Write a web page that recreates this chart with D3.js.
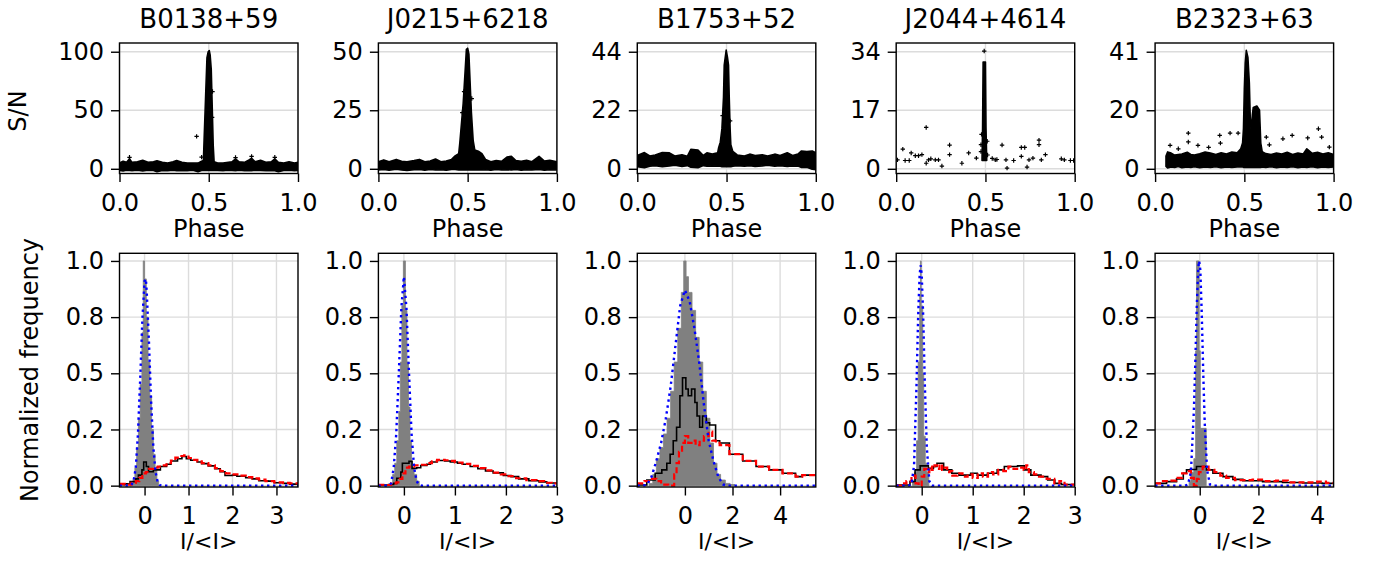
<!DOCTYPE html>
<html><head><meta charset="utf-8">
<script src="https://cdn.jsdelivr.net/npm/d3@7"></script>
<style>
body{margin:0;background:#fff}
text{font-family:"DejaVu Sans",sans-serif;fill:#000}
</style>
</head><body>
<svg id="c" width="1375" height="561"></svg>
<script>
// ---------------- DATA ----------------
const pulsarNames = ["B0138+59","J0215+6218","B1753+52","J2044+4614","B2323+63"];
const snMax = [100, 50, 44, 34, 41];
const snTickLabels = [["0","50","100"],["0","25","50"],["0","22","44"],["0","17","34"],["0","20","41"]];
const phaseTicks = [0, 0.5, 1];
const phaseTickLabels = ["0.0","0.5","1.0"];

// dense single-pulse clouds: [phase, low S/N, high S/N] envelope
const cloud_B0138 = [[0.0,-1.5,5],[0.02,-1.8,6.5],[0.04,-1.2,5.5],[0.056,-1.5,8.5],[0.07,-1.6,5.5],[0.1,-1.3,6],[0.13,-1.8,7.2],[0.16,-1.2,5.5],[0.19,-1.5,6],[0.21,-2.5,6.8],[0.24,-1.4,5.5],[0.27,-1.6,5],[0.3,-1.2,6],[0.32,-1.7,7],[0.35,-1.4,5.5],[0.38,-1.6,5],[0.41,-1.3,5],[0.44,-2.5,4.8],[0.46,-1.5,6.5],[0.47,-1.5,7],[0.474,-1.5,25],[0.482,-1.5,60],[0.49,-1.5,95],[0.497,-1.5,100],[0.503,-1.5,101],[0.508,-1.5,97],[0.514,-1.5,85],[0.52,-1.5,50],[0.525,-1.5,20],[0.53,-1.5,6],[0.55,-1.4,5],[0.58,-1.6,4.8],[0.61,-1.3,5.5],[0.63,-1.5,6],[0.65,-1.7,8.5],[0.67,-1.3,6],[0.7,-1.6,5.5],[0.72,-1.4,7],[0.74,-1.6,9],[0.76,-1.3,6],[0.79,-1.5,7.2],[0.82,-1.7,5.5],[0.85,-1.4,6],[0.87,-1.6,8.5],[0.89,-2.5,5.5],[0.92,-1.5,5],[0.95,-1.3,6],[0.98,-1.7,5],[1.0,-1.5,5.5]];
const cloud_J0215 = [[0.0,-0.5,3],[0.03,-0.3,3.8],[0.06,-0.6,3],[0.1,-0.2,4],[0.13,-0.5,3.2],[0.16,-0.7,3],[0.2,-0.4,3.5],[0.23,-0.3,4],[0.26,-0.6,3],[0.29,-0.3,3.3],[0.32,-0.5,4.2],[0.35,-0.4,3],[0.38,-0.6,3.3],[0.41,-0.3,4],[0.43,-0.3,5.5],[0.45,-0.5,6.5],[0.456,-0.5,11],[0.466,-0.5,20],[0.475,-0.5,28],[0.486,-0.5,42],[0.493,-0.5,51],[0.5,-0.5,51.5],[0.507,-0.5,49],[0.512,-0.5,40],[0.521,-0.5,24],[0.531,-0.5,12],[0.54,-0.5,8],[0.56,-0.5,7.5],[0.58,-0.5,6.5],[0.6,-0.4,4],[0.63,-0.6,3],[0.66,-0.3,3.5],[0.69,-0.5,3.2],[0.72,-0.4,5],[0.745,-0.5,5.3],[0.77,-0.3,3.5],[0.8,-0.6,3.2],[0.83,-0.4,3.6],[0.86,-0.5,3],[0.9,-0.3,5.3],[0.93,-0.6,3.3],[0.96,-0.4,3.6],[1.0,-0.5,3]];
const cloud_B1753 = [[0.0,0.8,5],[0.04,0.4,6.1],[0.07,1.0,4.8],[0.1,1.2,5.2],[0.14,0.8,6.1],[0.18,1.1,6],[0.21,1.3,4.8],[0.25,0.9,5.3],[0.28,1.2,4.7],[0.3,0.6,7.3],[0.34,0.4,7],[0.37,1.2,5],[0.39,1.0,6],[0.42,1.1,5.5],[0.45,1.0,6],[0.456,1.0,8],[0.465,1.0,10],[0.474,0.8,15],[0.483,0.8,27],[0.487,0.8,39],[0.498,0.8,44.6],[0.505,0.8,42],[0.511,0.8,39],[0.515,0.8,27],[0.52,0.8,15],[0.524,0.8,9],[0.535,1.0,6.5],[0.56,1.2,5.2],[0.6,1.0,4.8],[0.63,1.2,5.5],[0.66,0.9,5],[0.7,1.1,5.3],[0.73,1.3,4.8],[0.77,1.0,5.5],[0.8,1.2,5],[0.84,0.9,6],[0.87,1.1,5],[0.9,1.0,5.5],[0.92,0.5,6.7],[0.95,0.6,6.5],[0.98,-0.2,6.7],[1.0,-0.3,6]];
const cloud_J2044 = [[0.481,2.4,3],[0.484,2.4,12],[0.487,2.4,31],[0.5,2.4,31],[0.503,2.4,12],[0.507,2.4,3]];
const cloud_B2323 = [[0.061,0.8,4.5],[0.07,0.3,5.9],[0.09,0.6,5.5],[0.11,0.5,4.8],[0.13,0.8,5],[0.15,0.4,5.2],[0.18,0.6,5.8],[0.2,0.5,5],[0.22,0.7,4.8],[0.25,0.4,5.3],[0.28,0.6,5.9],[0.31,0.5,5.5],[0.34,0.7,5],[0.37,0.4,5.6],[0.4,0.6,5.2],[0.43,0.5,5.9],[0.46,0.6,5.6],[0.48,0.6,7],[0.49,0.6,9],[0.495,0.5,14],[0.5,0.5,28],[0.505,0.5,37],[0.511,0.5,41.5],[0.52,0.5,39],[0.528,0.5,30],[0.533,0.5,18],[0.538,0.5,13],[0.545,0.5,19],[0.55,0.5,21.5],[0.57,0.5,22],[0.585,0.5,20.5],[0.592,0.5,9],[0.6,0.6,6],[0.62,0.5,5.3],[0.65,0.7,5],[0.68,0.4,5.5],[0.71,0.6,5.2],[0.74,0.5,5.8],[0.77,0.7,5],[0.8,0.4,5.5],[0.83,0.6,5.2],[0.85,0.5,7],[0.88,0.7,5.4],[0.91,0.4,5.8],[0.94,0.6,5.2],[0.97,0.5,5.6],[1.0,0.6,5]];

// isolated single pulses: [phase, S/N]
const stray_B0138 = [[0.432,27.7],[0.521,66],[0.519,44],[0.46,10],[0.056,9.8],[0.65,9.6],[0.74,10.6],[0.87,9.8]];
const stray_J0215 = [[0.47,24],[0.523,30],[0.48,33]];
const stray_B1753 = [[0.478,20],[0.52,18]];
const stray_J2044 = [[0.493,34.2],[0.475,5],[0.475,7],[0.51,8],[0.512,4],[0.478,10],[0.007,2.6],[0.037,5.7],[0.05,2.4],[0.073,2.4],[0.084,4.6],[0.107,3.8],[0.125,3.8],[0.144,4.1],[0.168,12.0],[0.168,1.6],[0.181,2.6],[0.194,2.9],[0.219,2.6],[0.237,2.6],[0.256,0.8],[0.299,6.9],[0.299,4.1],[0.368,1.6],[0.406,4.6],[0.449,3.1],[0.538,3.0],[0.555,2.6],[0.564,2.7],[0.593,6.9],[0.615,2.6],[0.621,0.2],[0.658,2.4],[0.701,6.2],[0.72,6.2],[0.701,3.6],[0.733,0.5],[0.744,2.6],[0.766,3.1],[0.8,8.3],[0.8,7.0],[0.813,2.6],[0.836,4.1],[0.925,2.9],[0.942,2.6],[0.976,2.4],[0.994,2.4]];
const stray_B2323 = [[0.084,8.2],[0.186,12.5],[0.186,9.4],[0.24,8.2],[0.362,11.7],[0.366,9.0],[0.42,12.5],[0.465,12.5],[0.623,11.1],[0.64,8.4],[0.716,10.5],[0.768,11.7],[0.855,10.8],[0.915,14.0],[0.933,11.1],[0.976,7.6],[0.13,7],[0.3,7.5],[0.55,7]];

// bottom row
const freqTicks = [0, 0.25, 0.5, 0.75, 1];
const freqTickLabels = ["0.0","0.2","0.5","0.8","1.0"];
const intensityDomains = [[-0.57,3.49],[-0.5,3],[-2,5.5],[-0.5,3],[-1.52,4.56]];
const intensityTicks = [[0,1,2,3],[0,1,2,3],[0,2,4],[0,1,2,3],[0,2,4]];

// off-pulse histogram (grey, filled steps): [bin left edge, normalized frequency]
const off_B0138 = [[-0.34,0],[-0.30,0.01],[-0.26,0.03],[-0.22,0.08],[-0.18,0.17],[-0.14,0.3],[-0.10,0.45],[-0.06,0.68],[-0.03,1.0],[0.0,0.92],[0.04,0.75],[0.08,0.55],[0.12,0.4],[0.16,0.25],[0.20,0.14],[0.24,0.07],[0.28,0.02],[0.32,0]];
const off_J0215 = [[-0.26,0.01],[-0.22,0.05],[-0.18,0.1],[-0.14,0.2],[-0.1,0.33],[-0.07,0.55],[-0.04,0.8],[-0.01,1.0],[0.03,0.78],[0.06,0.55],[0.09,0.35],[0.12,0.2],[0.15,0.08],[0.2,0.05],[0.25,0.02],[0.3,0]];
const off_B1753 = [[-1.5,0.01],[-1.35,0.05],[-1.2,0.12],[-1.05,0.17],[-0.9,0.23],[-0.75,0.3],[-0.6,0.42],[-0.45,0.55],[-0.3,0.7],[-0.15,0.86],[-0.05,1.0],[0.05,0.93],[0.15,0.86],[0.3,0.78],[0.45,0.66],[0.6,0.55],[0.75,0.42],[0.9,0.3],[1.05,0.19],[1.2,0.1],[1.35,0.05],[1.5,0.025],[1.7,0.01],[1.9,0.005],[2.1,0]];
const off_J2044 = [[-0.18,0.02],[-0.14,0.06],[-0.1,0.2],[-0.07,0.55],[-0.04,0.85],[-0.025,1.0],[-0.01,0.8],[0.02,0.5],[0.04,0.22],[0.07,0.1],[0.1,0.06],[0.14,0]];
const off_B2323 = [[-0.36,0.02],[-0.3,0.06],[-0.2,0.12],[-0.14,0.6],[-0.11,1.0],[-0.02,0.6],[0.02,0.255],[0.22,0]];

// fitted noise distribution (blue dotted): [I/<I>, normalized frequency]
const fit_B0138 = [[-0.57,0],[-0.35,0],[-0.3,0.003],[-0.25,0.02],[-0.2,0.08],[-0.15,0.23],[-0.1,0.47],[-0.05,0.74],[0.0,0.91],[0.03,0.92],[0.05,0.86],[0.1,0.64],[0.15,0.37],[0.2,0.17],[0.25,0.06],[0.3,0.015],[0.35,0.002],[0.4,0],[3.49,0]];
const fit_J0215 = [[-0.5,0],[-0.3,0],[-0.25,0.01],[-0.2,0.08],[-0.15,0.23],[-0.1,0.5],[-0.05,0.79],[0,0.93],[0.05,0.79],[0.1,0.5],[0.15,0.23],[0.2,0.08],[0.25,0.02],[0.3,0.003],[0.35,0],[3,0]];
const fit_B1753 = [[-2,0],[-1.8,0],[-1.6,0.003],[-1.4,0.04],[-1.2,0.11],[-1.0,0.19],[-0.8,0.3],[-0.6,0.44],[-0.4,0.62],[-0.2,0.8],[0,0.87],[0.2,0.82],[0.4,0.7],[0.6,0.55],[0.8,0.36],[1.0,0.2],[1.2,0.11],[1.4,0.04],[1.6,0.005],[1.8,0],[5.5,0]];
const fit_J2044 = [[-0.5,0],[-0.25,0],[-0.2,0.005],[-0.15,0.09],[-0.1,0.46],[-0.07,0.75],[-0.04,0.94],[-0.02,0.98],[0.0,0.94],[0.03,0.75],[0.06,0.46],[0.1,0.17],[0.15,0.02],[0.2,0],[3.0,0]];
const fit_B2323 = [[-1.52,0],[-0.5,0],[-0.4,0.005],[-0.3,0.06],[-0.2,0.33],[-0.15,0.55],[-0.1,0.8],[-0.05,0.97],[-0.02,1.0],[0.02,0.96],[0.07,0.76],[0.12,0.5],[0.17,0.28],[0.25,0.07],[0.35,0.005],[0.45,0],[4.56,0]];

// on-pulse histogram (black steps)
const on_B0138 = [[-0.57,0.004],[-0.45,0.008],[-0.33,0.018],[-0.2,0.03],[-0.14,0.047],[-0.06,0.07],[-0.02,0.105],[0.04,0.085],[0.09,0.062],[0.2,0.07],[0.36,0.085],[0.5,0.095],[0.6,0.11],[0.75,0.12],[0.85,0.13],[0.95,0.12],[1.05,0.113],[1.2,0.105],[1.3,0.098],[1.45,0.088],[1.6,0.075],[1.72,0.062],[1.83,0.045],[2.0,0.047],[2.1,0.042],[2.3,0.035],[2.45,0.03],[2.6,0.022],[2.8,0.02],[2.95,0.013],[3.15,0.01],[3.3,0.007],[3.49,0.007]];
const on_J0215 = [[-0.5,0.003],[-0.3,0.005],[-0.2,0.01],[-0.14,0.033],[-0.06,0.06],[-0.03,0.1],[0.05,0.1],[0.1,0.108],[0.16,0.077],[0.25,0.08],[0.33,0.09],[0.45,0.095],[0.52,0.105],[0.65,0.112],[0.8,0.11],[0.91,0.105],[1.05,0.1],[1.15,0.095],[1.3,0.085],[1.45,0.075],[1.6,0.065],[1.75,0.057],[1.95,0.045],[2.1,0.04],[2.25,0.03],[2.45,0.022],[2.65,0.017],[2.8,0.012],[3.0,0.012]];
const on_B1753 = [[-2.0,0.003],[-1.6,0.025],[-1.25,0.055],[-0.97,0.07],[-0.76,0.1],[-0.62,0.14],[-0.49,0.2],[-0.35,0.26],[-0.21,0.4],[-0.1,0.48],[0.04,0.43],[0.14,0.4],[0.28,0.43],[0.42,0.37],[0.51,0.31],[0.62,0.26],[0.74,0.31],[0.9,0.28],[1.04,0.27],[1.29,0.2],[1.46,0.19],[1.87,0.14],[2.43,0.11],[2.99,0.085],[3.54,0.07],[4.1,0.055],[4.65,0.04],[4.93,0.047],[5.5,0.047]];
const on_J2044 = [[-0.5,0.003],[-0.23,0.018],[-0.13,0.07],[-0.03,0.088],[0.13,0.077],[0.23,0.085],[0.3,0.1],[0.43,0.07],[0.59,0.055],[0.73,0.047],[0.96,0.055],[1.09,0.047],[1.29,0.055],[1.48,0.07],[1.62,0.085],[1.88,0.088],[2.01,0.07],[2.14,0.047],[2.34,0.04],[2.47,0.025],[2.61,0.01],[2.74,0.005],[3.0,0.005]];
const on_B2323 = [[-1.52,0.01],[-1.13,0.018],[-0.79,0.03],[-0.56,0.055],[-0.45,0.07],[-0.34,0.072],[-0.11,0.085],[0.23,0.07],[0.45,0.055],[0.79,0.04],[1.13,0.028],[1.47,0.022],[2.14,0.018],[2.82,0.014],[3.5,0.012],[4.17,0.01],[4.56,0.01]];

// residual histogram (red dashed steps)
const res_B0138 = [[-0.57,0.008],[-0.45,0.005],[-0.3,0.012],[-0.2,0.02],[-0.12,0.035],[-0.05,0.055],[0.03,0.06],[0.1,0.075],[0.2,0.08],[0.3,0.085],[0.4,0.09],[0.5,0.1],[0.6,0.112],[0.7,0.125],[0.8,0.132],[0.9,0.135],[1.0,0.123],[1.1,0.115],[1.2,0.108],[1.3,0.1],[1.45,0.09],[1.6,0.078],[1.72,0.065],[1.85,0.055],[2.0,0.05],[2.15,0.045],[2.3,0.038],[2.45,0.032],[2.6,0.027],[2.75,0.02],[2.95,0.015],[3.15,0.012],[3.3,0.01],[3.49,0.01]];
const res_J0215 = [[-0.5,0.004],[-0.35,0.003],[-0.25,0.01],[-0.15,0.015],[-0.08,0.03],[-0.03,0.055],[0.03,0.08],[0.1,0.085],[0.2,0.09],[0.3,0.093],[0.45,0.1],[0.55,0.108],[0.65,0.115],[0.8,0.113],[0.9,0.11],[1.0,0.103],[1.15,0.097],[1.3,0.088],[1.45,0.078],[1.6,0.068],[1.75,0.058],[1.9,0.05],[2.05,0.042],[2.2,0.033],[2.4,0.025],[2.6,0.02],[2.75,0.013],[2.9,0.01],[3.0,0.01]];
const res_B1753 = [[-2.0,0.01],[-1.7,0.02],[-1.45,0.03],[-1.2,0.02],[-1.0,0.005],[-0.7,0.0],[-0.45,0.05],[-0.35,0.1],[-0.25,0.15],[-0.12,0.19],[0.0,0.22],[0.14,0.19],[0.28,0.2],[0.45,0.18],[0.62,0.2],[0.8,0.22],[1.0,0.24],[1.15,0.2],[1.3,0.19],[1.46,0.18],[1.87,0.14],[2.43,0.11],[2.99,0.085],[3.54,0.07],[4.1,0.055],[4.65,0.04],[4.93,0.047],[5.5,0.047]];
const res_J2044 = [[-0.5,0.0],[-0.4,0.01],[-0.3,0.02],[-0.2,0.045],[-0.12,0.01],[-0.06,0.0],[0.0,0.04],[0.05,0.075],[0.1,0.06],[0.15,0.085],[0.2,0.07],[0.25,0.09],[0.3,0.075],[0.35,0.095],[0.4,0.07],[0.45,0.08],[0.5,0.06],[0.55,0.065],[0.6,0.045],[0.7,0.055],[0.8,0.04],[0.9,0.05],[1.0,0.035],[1.1,0.055],[1.2,0.04],[1.3,0.06],[1.4,0.05],[1.5,0.07],[1.6,0.065],[1.7,0.085],[1.8,0.075],[1.9,0.08],[2.0,0.07],[2.05,0.09],[2.1,0.06],[2.2,0.05],[2.3,0.04],[2.45,0.03],[2.6,0.01],[2.7,0.02],[2.8,0.005],[3.0,0.005]];
const res_B2323 = [[-1.52,0.01],[-1.3,0.02],[-1.0,0.022],[-0.8,0.035],[-0.6,0.055],[-0.45,0.065],[-0.3,0.035],[-0.2,0.0],[-0.1,0.03],[-0.03,0.06],[0.1,0.085],[0.3,0.07],[0.5,0.06],[0.7,0.045],[0.9,0.035],[1.2,0.025],[1.5,0.025],[1.8,0.027],[2.2,0.02],[2.6,0.022],[3.0,0.015],[3.5,0.015],[4.0,0.018],[4.3,0.012],[4.56,0.01]];

// ---------------- LAYOUT ----------------
const clouds = [cloud_B0138, cloud_J0215, cloud_B1753, cloud_J2044, cloud_B2323];
const strays = [stray_B0138, stray_J0215, stray_B1753, stray_J2044, stray_B2323];
const offs = [off_B0138, off_J0215, off_B1753, off_J2044, off_B2323];
const fits = [fit_B0138, fit_J0215, fit_B1753, fit_J2044, fit_B2323];
const ons = [on_B0138, on_J0215, on_B1753, on_J2044, on_B2323];
const ress = [res_B0138, res_J0215, res_B1753, res_J2044, res_B2323];

const svg = d3.select("#c");
const FS = 24;
const left0 = 119.5, pitch = 258.9, pw = 178.5;
const topT = 43, topB = 173.5, botT = 253.3, botB = 487;
const tickLen = 8.5;
const gridColor = "#dcdcdc";

function styleAxis(g, fs){
  g.select(".domain").remove();
  g.selectAll(".tick line").attr("stroke","#000").attr("stroke-width",1.4);
  g.selectAll(".tick text").style("font-size", fs+"px").style("font-family","DejaVu Sans");
}

let clipId = 0;
function frame(x0, y0, w, h){
  const id = "clip"+(clipId++);
  svg.append("clipPath").attr("id",id).append("rect").attr("x",x0).attr("y",y0).attr("width",w).attr("height",h);
  return id;
}

for (let i=0;i<5;i++){
  const x0 = left0 + pitch*i;
  // ---------- top panel ----------
  {
    const M = snMax[i];
    const x = d3.scaleLinear().domain([0,1]).range([x0, x0+pw]);
    const y = d3.scaleLinear().domain([-0.0403*M, 1.0746*M]).range([topB, topT]);
    const yt = [0, M/2, M];
    const g = svg.append("g");
    g.selectAll("line.gy").data(yt).enter().append("line")
      .attr("x1",x0).attr("x2",x0+pw).attr("y1",d=>y(d)).attr("y2",d=>y(d))
      .attr("stroke",gridColor).attr("stroke-width",1.4);
    g.selectAll("line.gx").data(phaseTicks).enter().append("line")
      .attr("y1",topT).attr("y2",topB).attr("x1",d=>x(d)).attr("x2",d=>x(d))
      .attr("stroke",gridColor).attr("stroke-width",1.4);
    const cid = frame(x0, topT, pw, topB-topT);
    const d = g.append("g").attr("clip-path",`url(#${cid})`);
    d.append("path").datum(clouds[i])
      .attr("d", d3.area().x(p=>x(p[0])).y0(p=>y(p[1])).y1(p=>y(p[2])))
      .attr("fill","#000").attr("stroke","#000").attr("stroke-width",1.6).attr("stroke-linejoin","round");
    d.selectAll("path.pt").data(strays[i]).enter().append("path")
      .attr("d", p=>`M${x(p[0])-2.2},${y(p[1])}h4.4M${x(p[0])},${y(p[1])-2.2}v4.4`)
      .attr("stroke","#000").attr("stroke-width",1.2);
    g.append("rect").attr("x",x0).attr("y",topT).attr("width",pw).attr("height",topB-topT)
      .attr("fill","none").attr("stroke","#000").attr("stroke-width",1.4);
    g.append("g").attr("transform",`translate(${x0},0)`)
      .call(d3.axisLeft(y).tickValues(yt).tickFormat((v,j)=>snTickLabels[i][j]).tickSize(tickLen).tickPadding(7))
      .call(a=>styleAxis(a,FS));
    g.append("g").attr("transform",`translate(0,${topB})`)
      .call(d3.axisBottom(x).tickValues(phaseTicks).tickFormat((v,j)=>phaseTickLabels[j]).tickSize(tickLen).tickPadding(12))
      .call(a=>styleAxis(a,FS));
    g.append("text").attr("x",x0+pw/2).attr("y",28).attr("text-anchor","middle")
      .style("font-size","26px").text(pulsarNames[i]);
    g.append("text").attr("x",x0+pw/2).attr("y",237).attr("text-anchor","middle")
      .style("font-size",FS+"px").text("Phase");
  }
  // ---------- bottom panel ----------
  {
    const x = d3.scaleLinear().domain(intensityDomains[i]).range([x0, x0+pw]);
    const y = d3.scaleLinear().domain([-0.006, 1.034]).range([botB, botT]);
    const g = svg.append("g");
    g.selectAll("line.gy").data(freqTicks).enter().append("line")
      .attr("x1",x0).attr("x2",x0+pw).attr("y1",d=>y(d)).attr("y2",d=>y(d))
      .attr("stroke",gridColor).attr("stroke-width",1.4);
    g.selectAll("line.gx").data(intensityTicks[i]).enter().append("line")
      .attr("y1",botT).attr("y2",botB).attr("x1",d=>x(d)).attr("x2",d=>x(d))
      .attr("stroke",gridColor).attr("stroke-width",1.4);
    const cid = frame(x0, botT, pw, botB-botT);
    const d = g.append("g").attr("clip-path",`url(#${cid})`);
    d.append("path").datum(offs[i])
      .attr("d", d3.area().curve(d3.curveStepAfter).x(p=>x(p[0])).y0(y(0)).y1(p=>y(p[1])))
      .attr("fill","#808080").attr("stroke","#808080").attr("stroke-width",0.8);
    d.append("path").datum(ons[i])
      .attr("d", d3.line().curve(d3.curveStepAfter).x(p=>x(p[0])).y(p=>y(p[1])))
      .attr("fill","none").attr("stroke","#000").attr("stroke-width",1.6);
    d.append("path").datum(ress[i])
      .attr("d", d3.line().curve(d3.curveStepAfter).x(p=>x(p[0])).y(p=>y(p[1])))
      .attr("fill","none").attr("stroke","#ff0000").attr("stroke-width",2.2).attr("stroke-dasharray","6,3");
    d.append("path").datum(fits[i])
      .attr("d", d3.line().x(p=>x(p[0])).y(p=>y(p[1])))
      .attr("fill","none").attr("stroke","#0000ff").attr("stroke-width",2.4).attr("stroke-dasharray","2.4,3.6");
    g.append("rect").attr("x",x0).attr("y",botT).attr("width",pw).attr("height",botB-botT)
      .attr("fill","none").attr("stroke","#000").attr("stroke-width",1.4);
    g.append("g").attr("transform",`translate(${x0},0)`)
      .call(d3.axisLeft(y).tickValues(freqTicks).tickFormat((v,j)=>freqTickLabels[j]).tickSize(tickLen).tickPadding(7))
      .call(a=>styleAxis(a,FS));
    g.append("g").attr("transform",`translate(0,${botB})`)
      .call(d3.axisBottom(x).tickValues(intensityTicks[i]).tickFormat(d3.format("d")).tickSize(tickLen).tickPadding(11))
      .call(a=>styleAxis(a,FS));
    g.append("text").attr("x",x0+pw/2).attr("y",549).attr("text-anchor","middle")
      .style("font-size","22px").text("I/<I>");
  }
}
// y labels
svg.append("text").attr("transform","translate(26,111) rotate(-90)").attr("text-anchor","middle")
  .style("font-size",FS+"px").text("S/N");
svg.append("text").attr("transform","translate(38,370) rotate(-90)").attr("text-anchor","middle")
  .style("font-size",FS+"px").text("Normalized frequency");
</script>
</body></html>
